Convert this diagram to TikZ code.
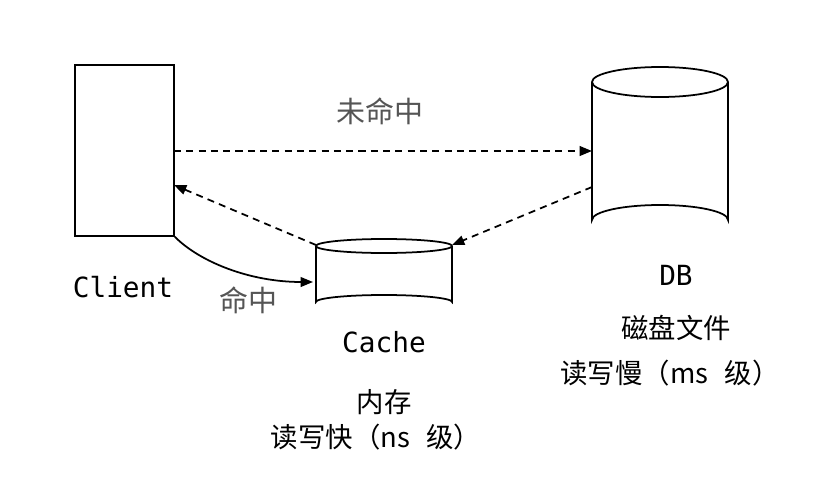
\documentclass[tikz,border=0pt]{standalone}
\usepackage{fontspec}
\setmonofont{DejaVu Sans Mono}
\newfontfamily\cjk{Noto Sans CJK SC}
\usetikzlibrary{arrows.meta}
\definecolor{lblgray}{HTML}{555555}
\tikzset{
  ln/.style={line width=1pt, black},
  dsh/.style={ln, dash pattern=on 4pt off 3pt},
  tip/.style={-{Triangle[length=7pt,width=5.5pt]}},
  mono/.style={font=\ttfamily\fontsize{15.8}{18}\selectfont, inner sep=0pt},
  zh/.style={font=\cjk\fontsize{15.6}{18}\selectfont, inner sep=0pt},
  zhg/.style={font=\cjk\fontsize{16.5}{18}\selectfont, inner sep=0pt, text=lblgray},
}
\begin{document}
\begin{tikzpicture}[x=0.02cm,y=-0.02cm]
\useasboundingbox (0,0) rectangle (840,504);
% Client
\node[ln, draw, minimum width=99*0.02cm, minimum height=171*0.02cm, inner sep=0pt, anchor=north west] (client) at (74,64) {};
% DB cylinder
\draw[ln, fill=white] (592,82) -- (592,220) arc[start angle=180, end angle=360, x radius=68, y radius=15] -- (728,82);
\draw[ln] (660,82) ellipse[x radius=68, y radius=15];
\coordinate (dbin) at (592,151);
\coordinate (dbout) at (592,187);
% Cache cylinder
\draw[ln] (316,246) -- (316,302) arc[start angle=180, end angle=360, x radius=68, y radius=7] -- (452,246);
\draw[ln] (384,246) ellipse[x radius=68, y radius=7];
\coordinate (cachetr) at (452,245);
\coordinate (cachetl) at (316,245);
\coordinate (cacheleft) at (313,282);
% arrows
\coordinate (clientout) at (174,151);
\coordinate (clientin) at (174,185);
\draw[dsh, tip] (clientout) -- (dbin);
\draw[dsh, tip] (dbout) -- (cachetr);
\draw[dsh, tip] (cachetl) -- (clientin);
\draw[ln, tip] (client.south east) .. controls (200,262) and (250,282) .. (cacheleft);
% labels
\node[zhg] (miss) at (380,111) {未命中};
\node[zhg] (hit) at (248,300) {命中};
\node[mono] (clientlbl) at (123,287) {Client};
\node[mono] (dblbl) at (676,275) {DB};
\node[mono] (cachelbl) at (384,342) {Cache};
\node[zh] (mem) at (384,402) {内存};
\node[zh] (fast) at (376,437) {读写快（ns\hspace{0.6em}级）};
\node[zh] (disk) at (676,328) {磁盘文件};
\node[zh] (slow) at (670,373) {读写慢（ms\hspace{0.6em}级）};
\end{tikzpicture}
\end{document}
